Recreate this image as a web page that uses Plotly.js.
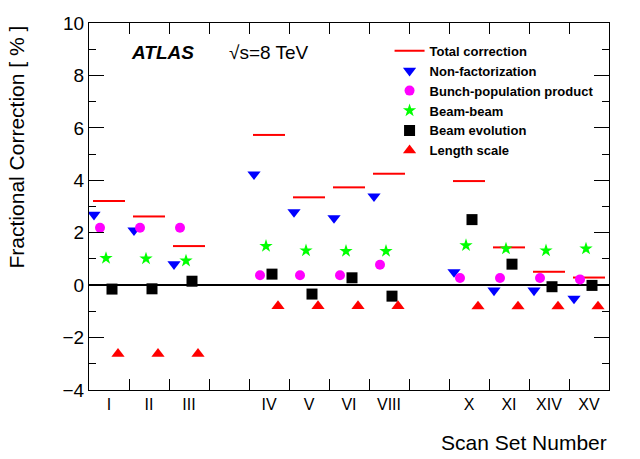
<!DOCTYPE html>
<html>
<head>
<meta charset="utf-8">
<script src="https://cdn.plot.ly/plotly-3.0.1.min.js"></script>
<style>html,body{margin:0;padding:0;background:#fff}</style>
</head>
<body>
<div id="chart" style="width:640px;height:459px"></div>
<script>
var scanLabels = ['I', 'II', 'III', 'IV', 'V', 'VI', 'VIII', 'X', 'XI', 'XIV', 'XV'];
var scanBins = [1, 2, 3, 5, 6, 7, 8, 10, 11, 12, 13];

var totalCorr = [3.21, 2.62, 1.49, 5.73, 3.35, 3.73, 4.25, 3.97, 1.44, 0.51, 0.29];
var nonFact = [2.69, 2.09, 0.80, 4.23, 2.79, 2.56, 3.39, 0.50, -0.20, -0.20, -0.51];
var bunchPop = [2.19, 2.19, 2.19, 0.38, 0.38, 0.38, 0.78, 0.27, 0.27, 0.27, 0.22];
var beamBeam = [1.03, 1.01, 0.93, 1.49, 1.32, 1.30, 1.30, 1.52, 1.39, 1.32, 1.39];
var beamEvol = [-0.15, -0.14, 0.15, 0.42, -0.34, 0.28, -0.42, 2.50, 0.80, -0.06, -0.01];
var lengthScale = [-2.62, -2.62, -2.62, -0.80, -0.80, -0.80, -0.80, -0.81, -0.81, -0.81, -0.81];

var FONT = '"Liberation Sans", Arial, Helvetica, sans-serif';

// markers sit side by side inside each bin
function shift(dx) {
    return scanBins.map(function (b) { return b + dx; });
}

var lineX = [], lineY = [];
scanBins.forEach(function (b, i) {
    lineX.push(b - 0.4, b + 0.4, null);
    lineY.push(totalCorr[i], totalCorr[i], null);
});

// bin edges for the x tick marks
var binEdges = [];
for (var k = 1; k < 13; k++) binEdges.push(k + 0.5);

var data = [
    {x: lineX, y: lineY, mode: 'lines', name: 'Total correction',
        line: {color: '#ff0000', width: 2}},
    {x: shift(-0.375), y: nonFact, mode: 'markers', name: 'Non-factorization',
        marker: {symbol: 'triangle-down', size: 11.5, color: '#0000ff'}},
    {x: shift(-0.225), y: bunchPop, mode: 'markers', name: 'Bunch-population product',
        marker: {symbol: 'circle', size: 10, color: '#ff00ff'}},
    {x: shift(-0.075), y: beamBeam, mode: 'markers', name: 'Beam-beam',
        marker: {symbol: 'star', size: 10, color: '#00ff00'}},
    {x: shift(0.075), y: beamEvol, mode: 'markers', name: 'Beam evolution',
        marker: {symbol: 'square', size: 11, color: '#000000'}},
    {x: shift(0.225), y: lengthScale, mode: 'markers', name: 'Length scale',
        marker: {symbol: 'triangle-up', size: 11.5, color: '#ff0000'}}
];

var layout = {
    width: 640, height: 459,
    margin: {l: 89, r: 31, t: 23, b: 69},
    paper_bgcolor: 'white', plot_bgcolor: 'white',
    font: {family: FONT, color: 'black'},
    showlegend: true,
    legend: {
        x: 0.578, y: 0.965, xanchor: 'left', yanchor: 'top',
        bgcolor: 'rgba(0,0,0,0)', borderwidth: 0,
        font: {family: FONT, size: 13, weight: 'bold', color: 'black'}
    },
    xaxis: {
        range: [0.5, 13.5], tickvals: scanBins, ticktext: scanLabels,
        ticks: '', showline: true, linecolor: 'black', linewidth: 1, mirror: 'ticks',
        showgrid: false, zeroline: false,
        tickfont: {family: FONT, size: 16, color: 'black'},
        minor: {tickvals: binEdges, ticks: 'inside', ticklen: 11, tickcolor: 'black', showgrid: false}
    },
    yaxis: {
        range: [-4, 10], tick0: 0, dtick: 2,
        ticks: 'inside', ticklen: 15, tickcolor: 'black',
        showline: true, linecolor: 'black', linewidth: 1, mirror: 'ticks',
        showgrid: false, zeroline: true, zerolinecolor: 'black', zerolinewidth: 2,
        tickfont: {family: FONT, size: 19, color: 'black'},
        minor: {dtick: 1, ticks: 'inside', ticklen: 7, tickcolor: 'black', showgrid: false}
    },
    annotations: [
        {xref: 'paper', yref: 'paper', x: 0.077, y: 0.919, xanchor: 'left', yanchor: 'middle',
            text: '<b><i>ATLAS</i></b>', showarrow: false, font: {family: FONT, size: 19}},
        {xref: 'paper', yref: 'paper', x: 0.265, y: 0.919, xanchor: 'left', yanchor: 'middle',
            text: '√s=8 TeV', showarrow: false, font: {family: FONT, size: 19}},
        {xref: 'paper', yref: 'paper', x: -0.1385, y: 1.0, xanchor: 'center', yanchor: 'top',
            textangle: -90, text: 'Fractional Correction [ % ]', showarrow: false,
            font: {family: FONT, size: 21}},
        {xref: 'paper', yref: 'paper', x: 1.0, y: -0.144, xanchor: 'right', yanchor: 'middle',
            text: 'Scan Set Number', showarrow: false, font: {family: FONT, size: 21}}
    ]
};

Plotly.newPlot('chart', data, layout, {displayModeBar: false, staticPlot: true});
</script>
</body>
</html>
